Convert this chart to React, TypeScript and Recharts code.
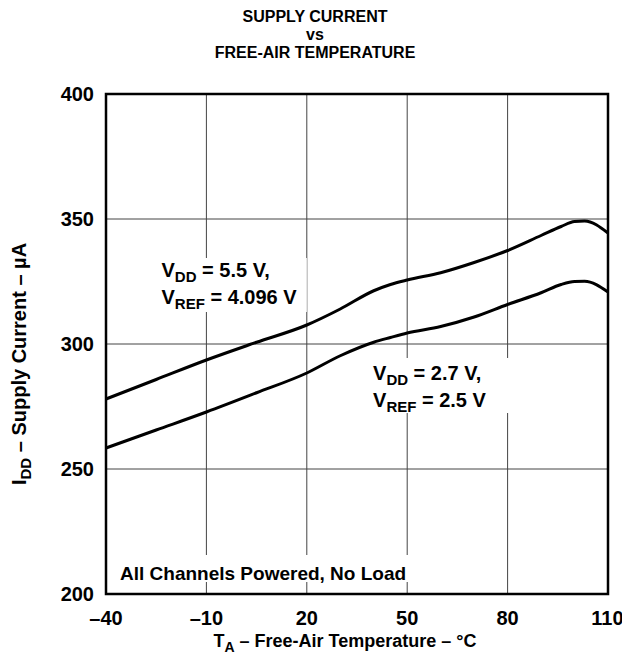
import { LineChart, Line, XAxis, YAxis, CartesianGrid, ReferenceArea, Label } from 'recharts'

const temps = [-40, -25, -10, 5, 20, 30, 40, 45, 50, 60, 70, 80, 90, 96, 100, 103, 110]
const idd55 = [278, 285.8, 293.6, 300.7, 307.6, 314, 321.3, 323.8, 325.6, 328.5, 332.6, 337.4, 343.4, 347, 349, 349.2, 344.4]
const idd27 = [258.4, 265.6, 272.8, 280.5, 288.4, 295.3, 300.7, 302.6, 304.4, 307, 310.8, 315.8, 320.5, 323.8, 325, 325.1, 320.8]
const xTicks = [-40, -10, 20, 50, 80, 110]
const yTicks = [200, 250, 300, 350, 400]

const data = temps.map((t, i) => ({ t, a: idd55[i], b: idd27[i] }))

const FONT = '"Liberation Sans", Arial, Helvetica, sans-serif'
const dash = (v: number) => (v < 0 ? `\u2013${Math.abs(v)}` : `${v}`)

type Box = { x?: number; y?: number; width?: number; height?: number }

function Note({
  box,
  lines,
  dx,
  dy,
  size = 20,
}: {
  box: Box
  lines: [string, string, string][]
  dx: number
  dy: number[]
  size?: number
}) {
  const { x = 0, y = 0, width = 0, height = 0 } = box
  return (
    <g>
      <rect x={x} y={y} width={width} height={height} fill="#fff" />
      {lines.map(([main, sub, rest], i) => (
        <text key={i} x={x + dx} y={y + dy[i]} fontFamily={FONT} fontWeight={700} fontSize={size} fill="#000">
          {main}
          {sub && (
            <tspan dy={5} fontSize={15}>
              {sub}
            </tspan>
          )}
          <tspan dy={sub ? -5 : 0}>{rest}</tspan>
        </text>
      ))}
    </g>
  )
}

export default function App() {
  return (
    <div style={{ position: 'relative', width: 614, height: 650 }}>
      <div
        style={{
          position: 'absolute',
          left: 0,
          width: 614,
          top: 0,
          textAlign: 'center',
          fontFamily: FONT,
          fontWeight: 700,
          fontSize: 16,
          lineHeight: '18px',
        }}
      >
        SUPPLY CURRENT
        <br />
        vs
        <br />
        FREE-AIR TEMPERATURE
      </div>
      <LineChart width={614} height={650} data={data} margin={{ top: 86, right: 14, bottom: 0, left: 0 }}>
        <CartesianGrid stroke="#444" strokeWidth={1} />
        <XAxis
          dataKey="t"
          type="number"
          domain={[-40, 110]}
          ticks={xTicks}
          tickFormatter={dash}
          tickLine={false}
          axisLine={false}
          height={64}
          tick={{ fontSize: 20, fontWeight: 700, fill: '#000', fontFamily: FONT, dy: 9 }}
        >
          <Label
            content={({ viewBox }: any) => (
              <text
                x={viewBox.x + viewBox.width / 2 - 12}
                y={viewBox.y + 53}
                textAnchor="middle"
                fontFamily={FONT}
                fontWeight={700}
                fontSize={18}
              >
                T<tspan dy={5} fontSize={14}>A</tspan>
                <tspan dy={-5}> {'\u2013'} Free-Air Temperature {'\u2013'} °C</tspan>
              </text>
            )}
          />
        </XAxis>
        <YAxis
          type="number"
          domain={[200, 400]}
          ticks={yTicks}
          tickLine={false}
          axisLine={false}
          width={98}
          tick={{ fontSize: 20, fontWeight: 700, fill: '#000', fontFamily: FONT, dx: -4 }}
        >
          <Label
            content={() => (
              <text
                transform="translate(18,356) rotate(-90)"
                textAnchor="middle"
                fontFamily={FONT}
                fontWeight={700}
                fontSize={20}
              >
                I<tspan dy={5} fontSize={15}>DD</tspan>
                <tspan dy={-5}> {'\u2013'} Supply Current {'\u2013'} µA</tspan>
              </text>
            )}
          />
        </YAxis>
        <ReferenceArea
          x1={-27}
          x2={20}
          y1={312.8}
          y2={334.4}
          shape={(p: any) => (
            <Note box={p} dx={12} dy={[19, 46]} lines={[['V', 'DD', ' = 5.5 V,'], ['V', 'REF', ' = 4.096 V']]} />
          )}
        />
        <ReferenceArea
          x1={37.4}
          x2={81.3}
          y1={272.4}
          y2={294.4}
          shape={(p: any) => (
            <Note box={p} dx={8} dy={[22, 49]} lines={[['V', 'DD', ' = 2.7 V,'], ['V', 'REF', ' = 2.5 V']]} />
          )}
        />
        <ReferenceArea
          x1={-38.2}
          x2={59.8}
          y1={204.8}
          y2={215.6}
          shape={(p: any) => (
            <Note box={p} dx={8} dy={[25]} size={19} lines={[['All Channels Powered, No Load', '', '']]} />
          )}
        />
        <Line dataKey="a" type="monotone" stroke="#000" strokeWidth={3} dot={false} isAnimationActive={false} />
        <Line dataKey="b" type="monotone" stroke="#000" strokeWidth={3} dot={false} isAnimationActive={false} />
        <ReferenceArea x1={-40} x2={110} y1={200} y2={400} fill="none" stroke="#000" strokeWidth={2.5} />
      </LineChart>
    </div>
  )
}
